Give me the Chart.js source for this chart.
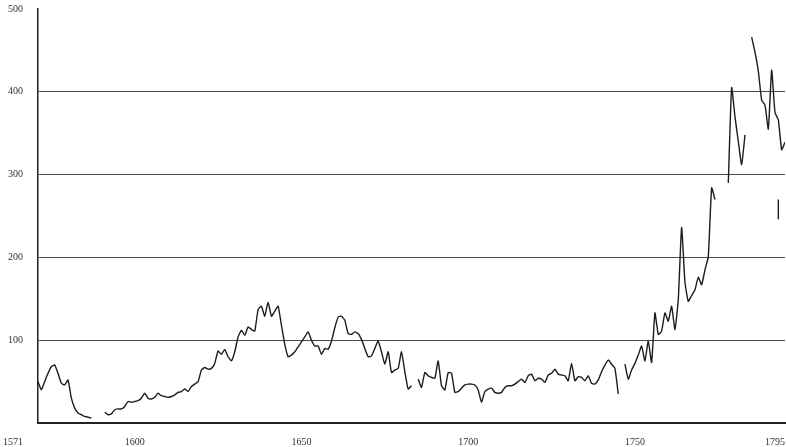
<!DOCTYPE html>
<html>
<head>
<meta charset="utf-8">
<script src="https://cdn.jsdelivr.net/npm/chart.js@4/dist/chart.umd.min.js"></script>
<style>
  html, body { margin: 0; padding: 0; background: #ffffff; }
  #wrap { width: 786px; height: 447px; }
</style>
</head>
<body>
<div id="wrap"><canvas id="c" width="786" height="447"></canvas></div>
<script>
const startYear = 1571;
const endYear = 1795;

// Index values by year (1571..1795); null = gap in the series
const values = [
  // 1571-1580
  50, 40, 50, 60, 68, 70, 60, 48, 46, 52,
  // 1581-1590
  30, 18, 12, 10, 8, 7, 6, null, null, null,
  // 1591-1600
  13, 10, 11, 16, 17, 17, 20, 26, 25, 26,
  // 1601-1610
  27, 30, 36, 30, 29, 31, 36, 33, 32, 31,
  // 1611-1620
  32, 34, 37, 38, 41, 38, 44, 47, 50, 64,
  // 1621-1630
  67, 65, 66, 72, 87, 83, 89, 80, 75, 86,
  // 1631-1640
  104, 112, 106, 116, 113, 111, 137, 141, 129, 146,
  // 1641-1650
  129, 135, 141, 118, 95, 80, 82, 86, 92, 98,
  // 1651-1660
  104, 110, 100, 93, 93, 83, 90, 89, 99, 115,
  // 1661-1670
  128, 129, 124, 108, 107, 110, 108, 101, 90, 80,
  // 1671-1680
  81, 90, 99, 86, 71, 86, 61, 64, 66, 86,
  // 1681-1690
  62, 41, 45, null, 53, 43, 61, 57, 55, 54,
  // 1691-1700
  75, 45, 40, 61, 60, 37, 38, 42, 46, 47,
  // 1701-1710
  47, 46, 40, 25, 38, 41, 42, 37, 36, 37,
  // 1711-1720
  43, 45, 45, 47, 50, 53, 49, 57, 59, 51,
  // 1721-1730
  54, 53, 49, 58, 60, 65, 59, 58, 57, 51,
  // 1731-1740
  72, 51, 56, 55, 51, 57, 48, 47, 52, 62,
  // 1741-1750
  70, 76, 71, 66, 35, null, 71, 53, 64, 72,
  // 1751-1760
  82, 93, 75, 99, 73, 133, 107, 111, 133, 123,
  // 1761-1770
  141, 113, 149, 236, 170, 147, 154, 161, 176, 167,
  // 1771-1780
  185, 201, 284, 270, null, null, null, 290, 405, 370,
  // 1781-1790
  340, 312, 348, null, 466, 448, 425, 390, 384, 355,
  // 1791-1795
  426, 375, 366, 330, 339
];

// Isolated short fragment drawn near 1793
const fragmentYears = [1793, 1793];
const fragmentValues = [270, 246];

const yTickValues = [100, 200, 300, 400, 500];
const xTickYears = [1571, 1600, 1650, 1700, 1750, 1795];
const xTickLabels = ['1571', '1600', '1650', '1700', '1750', '1795'];

const mainPoints = values.map((v, i) => ({ x: startYear + i, y: v }));
const fragPoints = fragmentYears.map((yr, i) => ({ x: yr, y: fragmentValues[i] }));

const xLabelPlugin = {
  id: 'xLabels',
  afterDraw(chart) {
    const ctx = chart.ctx;
    const xs = chart.scales.x;
    const yBase = chart.chartArea.bottom + 19;
    ctx.save();
    ctx.font = '10px "Liberation Serif", "DejaVu Serif", serif';
    ctx.fillStyle = '#333333';
    ctx.textBaseline = 'middle';
    xTickYears.forEach((yr, i) => {
      const px = xs.getPixelForValue(yr);
      if (i === 0) {
        ctx.textAlign = 'right';
        ctx.fillText(xTickLabels[i], px - 15, yBase);
      } else if (i === xTickYears.length - 1) {
        ctx.textAlign = 'right';
        ctx.fillText(xTickLabels[i], px, yBase);
      } else {
        ctx.textAlign = 'center';
        ctx.fillText(xTickLabels[i], px, yBase);
      }
    });
    ctx.restore();
  }
};

new Chart(document.getElementById('c'), {
  type: 'line',
  data: {
    datasets: [
      {
        data: mainPoints,
        borderColor: '#1c1c1c',
        borderWidth: 1.4,
        pointRadius: 0,
        tension: 0.15,
        spanGaps: false,
        fill: false
      },
      {
        data: fragPoints,
        borderColor: '#1c1c1c',
        borderWidth: 1.4,
        pointRadius: 0,
        fill: false
      }
    ]
  },
  options: {
    responsive: false,
    animation: false,
    devicePixelRatio: 1,
    layout: { padding: { left: 7, right: 1, top: 9, bottom: 24 } },
    plugins: {
      legend: { display: false },
      tooltip: { enabled: false }
    },
    scales: {
      x: {
        type: 'linear',
        min: startYear,
        max: endYear,
        ticks: { display: false },
        grid: { display: false },
        border: { display: true, color: '#222222', width: 2 },
        afterFit(scale) {
          scale.height = 0;
          scale.paddingLeft = 0; scale.paddingRight = 0;
          scale.paddingTop = 0; scale.paddingBottom = 0;
        }
      },
      y: {
        min: 0,
        max: 500,
        afterBuildTicks(scale) {
          scale.ticks = yTickValues.map(v => ({ value: v }));
        },
        afterFit(scale) {
          scale.width = 31;
          scale.paddingTop = 0; scale.paddingBottom = 0;
          scale.paddingLeft = 0; scale.paddingRight = 0;
        },
        ticks: {
          padding: 15,
          font: { family: '"Liberation Serif", "DejaVu Serif", serif', size: 10 },
          color: '#333333'
        },
        grid: {
          drawTicks: false,
          color: ctx => (ctx.tick && ctx.tick.value === 500) ? 'rgba(0,0,0,0)' : '#4a4a4a',
          lineWidth: 1
        },
        border: { display: true, color: '#222222', width: 1.5 }
      }
    }
  },
  plugins: [xLabelPlugin]
});
</script>
</body>
</html>
